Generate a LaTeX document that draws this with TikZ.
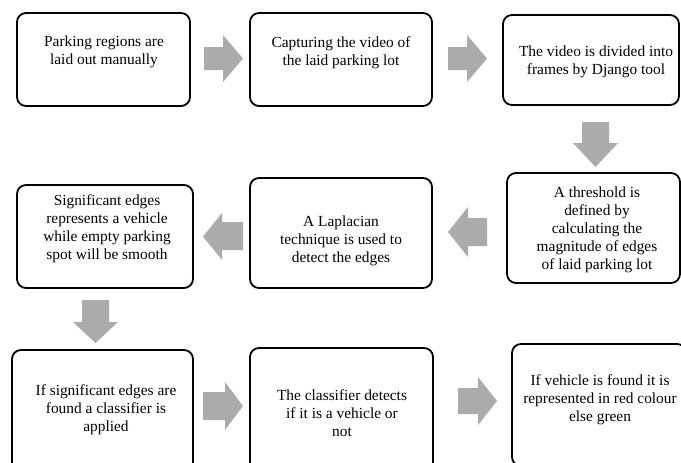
\documentclass[tikz,border=0pt]{standalone}
\usepackage{fontspec}
\setmainfont{Liberation Serif}
\begin{document}
\begin{tikzpicture}[x=1pt,y=-1pt,
  stepbox/.style={draw=black,line width=1.8pt,rounded corners=9pt,fill=white},
  steptext/.style={align=center,inner sep=0pt,font=\fontsize{15.4}{18}\selectfont},
  blockarrow/.style={fill=black!33,draw=none}]
\useasboundingbox (0,0) rectangle (681,463);
\clip (0,0) rectangle (681,463);

% process boxes
\draw[stepbox] (17,13) rectangle (190,106);
\draw[stepbox] (250,13) rectangle (432,106);
\draw[stepbox] (503,15) rectangle (679,105);
\draw[stepbox] (507,173) rectangle (680,283);
\draw[stepbox] (250,178) rectangle (432,288);
\draw[stepbox] (17,185) rectangle (193,288);
\draw[stepbox] (12,350) rectangle (193,472);
\draw[stepbox] (250,348) rectangle (433,472);
\draw[stepbox] (512,344) rectangle (686,466);

% box texts
\node[steptext] (t1) at (104,52) {Parking regions are\\laid out manually};
\node[steptext] (t2) at (341,53) {Capturing the video of\\the laid parking lot};
\node[steptext] (t3) at (596,62) {The video is divided into\\frames by Django tool};
\node[steptext] (t4) at (597,230) {A threshold is\\defined by\\calculating the\\magnitude of edges\\of laid parking lot};
\node[steptext] (t5) at (341,241) {A Laplacian\\technique is used to\\detect the edges};
\node[steptext] (t6) at (107,229) {Significant edges\\represents a vehicle\\while empty parking\\spot will be smooth};
\node[steptext] (t7) at (106,410) {If significant edges are\\found a classifier is\\applied};
\node[steptext] (t8) at (342,413) {The classifier detects\\if it is a vehicle or\\not};
\node[steptext] (t9) at (600,400) {If vehicle is found it is\\represented in red colour\\else green};

% block arrows between the steps
\fill[blockarrow] (204,47) -- (223,47) -- (223,35) -- (243,58.5) -- (223,82) -- (223,70) -- (204,70) -- cycle;
\fill[blockarrow] (448,47) -- (467,47) -- (467,35) -- (487,58.5) -- (467,82) -- (467,70) -- (448,70) -- cycle;
\fill[blockarrow] (582,122) -- (609,122) -- (609,143) -- (618,143) -- (595.5,167) -- (573,143) -- (582,143) -- cycle;
\fill[blockarrow] (487,218) -- (468,218) -- (468,207) -- (448,232) -- (468,257) -- (468,246) -- (487,246) -- cycle;
\fill[blockarrow] (243,222) -- (222,222) -- (222,213) -- (203,236.5) -- (222,260) -- (222,250) -- (243,250) -- cycle;
\fill[blockarrow] (82,300) -- (109,300) -- (109,322) -- (118,322) -- (95.5,343) -- (73,322) -- (82,322) -- cycle;
\fill[blockarrow] (203,392) -- (225,392) -- (225,382) -- (243,406) -- (225,430) -- (225,420) -- (203,420) -- cycle;
\fill[blockarrow] (458,388) -- (478,388) -- (478,377) -- (497,401) -- (478,425) -- (478,414) -- (458,414) -- cycle;
\end{tikzpicture}
\end{document}
